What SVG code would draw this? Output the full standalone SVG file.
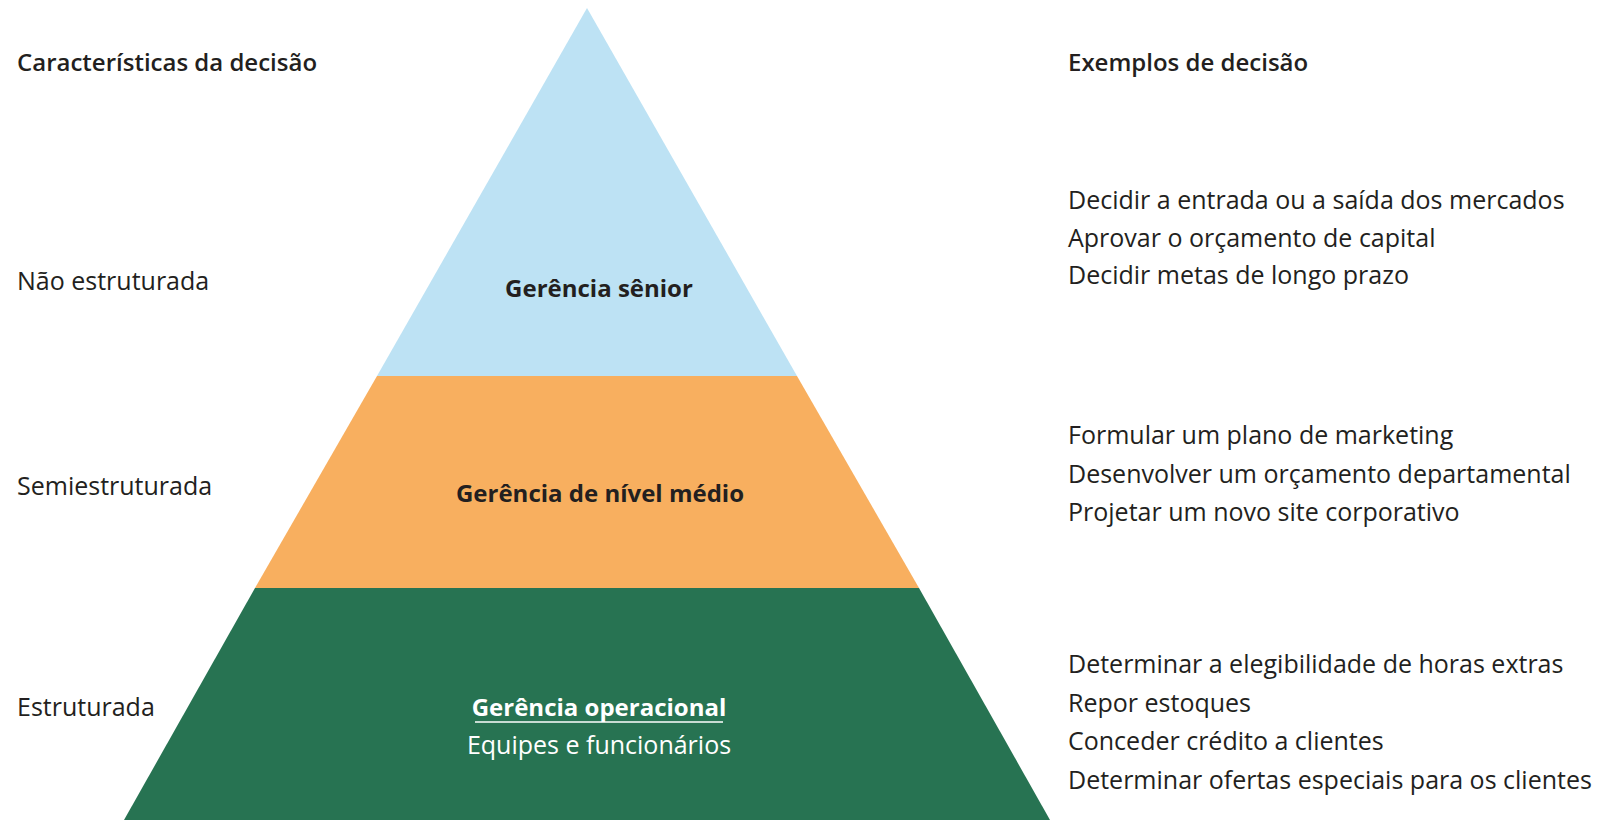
<svg xmlns="http://www.w3.org/2000/svg" width="1605" height="820" viewBox="0 0 1605 820">
<style>
.t{font-family:"Open Sans","Noto Sans","Liberation Sans",sans-serif;font-size:25px;fill:#231F20}
.b{font-family:"Open Sans","Noto Sans","Liberation Sans",sans-serif;font-size:24px;font-weight:bold;fill:#231F20}
.h{font-family:"Open Sans","Noto Sans","Liberation Sans",sans-serif;font-size:24px;font-weight:600;fill:#231F20}
.w{fill:#FFFFFF}
.c{text-anchor:middle}
</style>
<rect width="1605" height="820" fill="#FFFFFF"/>
<g id="level-senior">
<polygon points="587,8 377,376 797,376" fill="#BDE2F4"/>
<text class="b c" x="599" y="297">Gerência sênior</text>
</g>
<g id="level-middle">
<polygon points="377,376 797,376 919,588 255,588" fill="#F8AF5F"/>
<text class="b c" x="600" y="502">Gerência de nível médio</text>
</g>
<g id="level-operational">
<polygon points="255,588 919,588 1050,820 124,820" fill="#277352"/>
<text class="b c w" x="599" y="716">Gerência operacional</text>
<line x1="475" y1="722" x2="723" y2="722" stroke="#FFFFFF" stroke-width="1.6"/>
<text class="t c w" x="599" y="754">Equipes e funcionários</text>
</g>
<g id="left-labels">
<text class="h" x="17" y="71">Características da decisão</text>
<text class="t" x="17" y="290">Não estruturada</text>
<text class="t" x="17" y="495">Semiestruturada</text>
<text class="t" x="17" y="716">Estruturada</text>
</g>
<g id="right-labels">
<text class="h" x="1068" y="71">Exemplos de decisão</text>
<text class="t" x="1068" y="209">Decidir a entrada ou a saída dos mercados</text>
<text class="t" x="1068" y="247">Aprovar o orçamento de capital</text>
<text class="t" x="1068" y="284">Decidir metas de longo prazo</text>
<text class="t" x="1068" y="444">Formular um plano de marketing</text>
<text class="t" x="1068" y="483">Desenvolver um orçamento departamental</text>
<text class="t" x="1068" y="521">Projetar um novo site corporativo</text>
<text class="t" x="1068" y="673">Determinar a elegibilidade de horas extras</text>
<text class="t" x="1068" y="712">Repor estoques</text>
<text class="t" x="1068" y="750">Conceder crédito a clientes</text>
<text class="t" x="1068" y="789">Determinar ofertas especiais para os clientes</text>
</g>
<g id="connectors"></g>
</svg>
